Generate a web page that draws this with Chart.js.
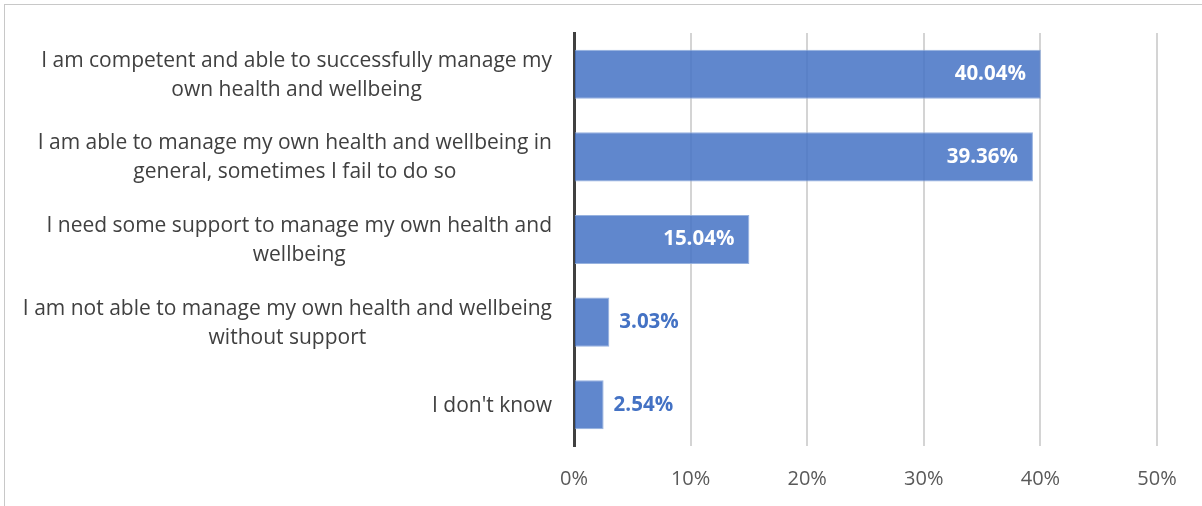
<!DOCTYPE html>
<html>
<head>
<meta charset="utf-8">
<script src="https://cdn.jsdelivr.net/npm/chart.js@4.4.1/dist/chart.umd.min.js"></script>
<style>
  html, body { margin: 0; padding: 0; background: #fff; overflow: hidden; }
  #frame { position: absolute; left: 4px; top: 4px; width: 1210px; height: 520px; border: 1px solid #c8c8c8; }
  #wrap { position: absolute; left: 0; top: 0; width: 1202px; height: 506px; }
</style>
</head>
<body>
<div id="frame"></div>
<div id="wrap"><canvas id="chart"></canvas></div>
<script>
// ── Data ──────────────────────────────────────────────────────────────────────
const categories = [
  ["I am competent and able to successfully manage my", "own health and wellbeing"],
  ["I am able to manage my own health and wellbeing in", "general, sometimes I fail to do so"],
  ["I need some support to manage my own health and", "wellbeing"],
  ["I am not able to manage my own health and wellbeing", "without support"],
  ["I don't know"],
];
const values = [40.04, 39.36, 15.04, 3.03, 2.54];
const xTicks = [0, 10, 20, 30, 40, 50];

const FONT = "Open Sans, sans-serif";
const BLUE = "#4472c4";

// ── Category labels: block right-aligned to the axis, lines centred inside ────
const categoryLabels = {
  id: "categoryLabels",
  afterDraw(chart) {
    const ctx = chart.ctx;
    const y = chart.scales.y;
    const right = y.right - 22;
    const lh = 29;
    ctx.save();
    ctx.font = "21px " + FONT;
    ctx.fillStyle = "#404040";
    ctx.textAlign = "center";
    ctx.textBaseline = "middle";
    categories.forEach((lines, i) => {
      const w = Math.max(...lines.map(l => ctx.measureText(l).width));
      const cx = right - w / 2;
      const cy = y.getPixelForValue(i);
      const top = cy - (lines.length - 1) * lh / 2;
      lines.forEach((l, k) => ctx.fillText(l, cx, top + k * lh + 1));
    });
    ctx.restore();
  },
};

// ── Value labels (white inside big bars, blue outside small ones) ─────────────
const valueLabels = {
  id: "valueLabels",
  afterDatasetsDraw(chart) {
    const ctx = chart.ctx;
    const meta = chart.getDatasetMeta(0);
    ctx.save();
    ctx.font = "bold 20.5px " + FONT;
    ctx.textBaseline = "middle";
    meta.data.forEach((bar, i) => {
      const txt = values[i].toFixed(2) + "%";
      if (values[i] > 10) {
        ctx.fillStyle = "#ffffff";
        ctx.textAlign = "right";
        ctx.fillText(txt, bar.x - 15, bar.y);
      } else {
        ctx.fillStyle = BLUE;
        ctx.textAlign = "left";
        ctx.fillText(txt, bar.x + 10, bar.y);
      }
    });
    ctx.restore();
  },
};

new Chart(document.getElementById("chart"), {
  type: "bar",
  data: {
    labels: categories.map(c => c.join(" ")),
    datasets: [{
      data: values,
      backgroundColor: "rgba(68,114,196,0.85)",
      borderColor: "rgba(140,170,220,0.9)",
      borderWidth: 1,
      categoryPercentage: 1,
      barPercentage: 0.594,
    }],
  },
  options: {
    indexAxis: "y",
    responsive: true,
    maintainAspectRatio: false,
    animation: false,
    layout: { padding: { top: 33, right: 45, bottom: 0, left: 0 } },
    plugins: { legend: { display: false }, tooltip: { enabled: false } },
    scales: {
      x: {
        min: 0, max: 50,
        afterBuildTicks: s => { s.ticks = xTicks.map(v => ({ value: v })); },
        afterFit: s => { s.height = 60; },
        grid: { color: "#d4d4d4", lineWidth: 2, drawTicks: false },
        border: { display: false },
        ticks: {
          color: "#595959", padding: 21,
          font: { family: FONT, size: 20 },
          callback: v => v + "%",
        },
      },
      y: {
        afterFit: s => { s.width = 574; },
        grid: { display: false, drawTicks: false },
        border: { display: true, color: "#404040", width: 3 },
        ticks: { display: false },
      },
    },
  },
  plugins: [valueLabels, categoryLabels],
});
</script>
</body>
</html>
